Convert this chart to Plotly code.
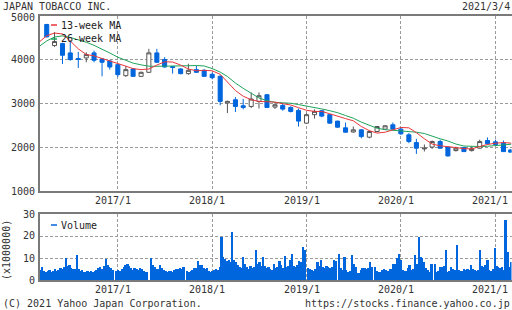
import pandas as pd
import plotly.graph_objects as go

# ---------------- data ----------------
months = pd.date_range("2016-04-01", "2021-03-01", freq="MS")
opens = [4795, 4315, 4360, 4148, 4020, 4033, 4148, 4010, 3964,
         3880, 3629, 3782, 3613, 3705, 4148, 3995, 3835, 3782, 3675, 3766, 3750,
         3660, 3613, 3005, 3080, 2943, 2927, 3042, 3195, 2913, 2950, 2905, 2837,
         2547, 2740, 2830, 2740, 2593, 2440, 2345, 2394, 2227, 2356, 2410, 2509,
         2410, 2280, 2104, 1960, 2001, 2127, 2001, 1921, 1990, 1921, 1976, 2150,
         2120, 2090, 1937]
highs = [4810, 4620, 4380, 4435, 4170, 4162, 4200, 4030, 3990,
         3900, 3850, 3800, 3720, 4240, 4240, 4050, 3845, 3800, 3900, 3850, 3780,
         3700, 3640, 3060, 3140, 3100, 3247, 3247, 3200, 3000, 3000, 2930, 2880,
         2770, 2860, 2840, 2750, 2600, 2560, 2470, 2410, 2380, 2480, 2500, 2560,
         2450, 2320, 2190, 2060, 2150, 2170, 2010, 2010, 2000, 2020, 2170, 2220,
         2170, 2150, 1950]
lows = [4500, 4285, 3896, 3970, 3805, 3934, 3934, 3613, 3766,
        3600, 3600, 3600, 3600, 3690, 3920, 3810, 3675, 3660, 3650, 3690, 3600,
        3545, 2955, 2776, 2800, 2860, 2890, 2880, 2900, 2870, 2830, 2790, 2470,
        2530, 2650, 2680, 2530, 2440, 2330, 2330, 2200, 2200, 2340, 2400, 2400,
        2280, 2090, 1846, 1900, 1960, 1960, 1785, 1900, 1890, 1900, 1960, 2060,
        2050, 1890, 1880]
closes = [4514, 4406, 4093, 3995, 4000, 4109, 3980, 3934, 3827,
          3652, 3766, 3613, 3705, 4148, 3934, 3827, 3815, 3675, 3750, 3705, 3613,
          3583, 3042, 3042, 2927, 2905, 3096, 3172, 2905, 2966, 2867, 2814, 2593,
          2740, 2814, 2707, 2547, 2455, 2340, 2395, 2241, 2356, 2470, 2486, 2410,
          2303, 2127, 1976, 1975, 2127, 1976, 1800, 1976, 1898, 1960, 2127, 2075,
          2059, 1898, 1885]

ma_dates = (["2016-03-04"] + [d.strftime("%Y-%m-%d") for d in
            pd.date_range("2016-04-01", "2021-02-01", freq="MS")] + ["2021-03-04"])
ma13 = [4400, 4540, 4600, 4580, 4420, 4240, 4110, 4080, 4020, 3970,
        3905, 3845, 3790, 3766, 3780, 3870, 3945, 3940, 3870, 3780, 3740, 3750,
        3740, 3660, 3480, 3290, 3160, 3080, 3042, 3042, 3025, 2990, 2960, 2900,
        2840, 2813, 2813, 2760, 2700, 2650, 2600, 2470, 2375, 2320, 2340, 2400,
        2447, 2440, 2330, 2190, 2070, 2029, 2015, 1990, 1965, 1960, 2013, 2060,
        2090, 2105, 2090]
ma26 = [4300, 4420, 4510, 4535, 4500, 4450, 4390, 4320, 4240, 4145,
        4050, 3970, 3915, 3875, 3845, 3842, 3842, 3842, 3845, 3855, 3860, 3850,
        3790, 3710, 3610, 3460, 3340, 3220, 3120, 3060, 3020, 3010, 3000, 2970,
        2940, 2905, 2870, 2830, 2785, 2720, 2660, 2570, 2490, 2430, 2398, 2385,
        2378, 2362, 2340, 2310, 2245, 2190, 2140, 2070, 2025, 2013, 2013, 2020,
        2030, 2050, 2068]

vol_dates = pd.date_range("2016-03-07", periods=261, freq="7D")
volume = [4.5, 5.8, 4.2, 3.8, 4.0, 4.5, 3.7, 4.2, 4.8, 3.9,
          4.6, 5.3, 5.0, 6.0, 9.8, 6.2, 7.0, 5.5, 5.2, 4.8,
          11.5, 5.0, 4.2, 4.5, 3.8, 3.6, 4.0, 3.5, 4.2, 3.8,
          4.0, 4.5, 5.5, 6.0, 5.0, 6.5, 9.6, 7.0, 6.0, 5.5,
          4.5, 0, 4.0, 4.5, 4.0, 5.0, 6.0, 6.8, 7.5, 6.5,
          5.5, 4.5, 5.5, 5.0, 4.5, 5.3, 4.8, 4.0, 3.8, 3.5,
          0, 10.0, 7.0, 6.0, 5.0, 5.0, 6.8, 5.5, 4.5, 4.0,
          3.8, 4.2, 4.0, 3.8, 4.5, 5.0, 4.8, 5.5, 5.0, 6.0,
          0, 4.0, 3.8, 4.2, 4.5, 5.3, 5.5, 8.6, 7.0, 6.8,
          5.5, 5.0, 5.3, 4.0, 3.8, 4.2, 4.5, 5.0, 4.5, 6.0,
          19.4, 10.6, 9.5, 8.5, 9.0, 8.0, 21.8, 9.0, 8.0, 7.0,
          6.0, 5.5, 10.6, 7.5, 6.0, 5.0, 6.5, 5.5, 6.0, 13.6,
          7.5, 8.0, 6.5, 10.6, 6.5, 5.5, 6.0, 5.0, 4.5, 7.5,
          5.3, 6.0, 8.8, 6.8, 5.5, 11.0, 6.0, 6.5, 9.0, 12.0,
          6.5, 6.0, 6.8, 8.8, 8.0, 14.8, 13.5, 0, 5.5, 5.0,
          4.5, 4.3, 4.8, 8.3, 6.5, 9.0, 6.0, 5.5, 6.5, 6.0,
          5.5, 6.0, 9.0, 8.5, 0, 11.8, 5.5, 4.5, 10.6, 4.5,
          3.8, 4.0, 11.4, 7.5, 6.0, 3.0, 3.2, 4.5, 5.3, 5.5,
          5.0, 5.5, 8.0, 6.0, 0, 6.0, 4.0, 3.5, 3.8, 4.5,
          4.8, 4.5, 4.3, 4.8, 5.0, 7.5, 7.5, 10.0, 11.8, 9.0,
          4.5, 4.0, 4.2, 5.3, 6.8, 4.5, 5.0, 11.4, 7.5, 19.4,
          10.6, 10.0, 8.0, 5.3, 4.5, 3.8, 7.5, 0, 7.5, 3.8,
          4.0, 6.0, 6.0, 6.5, 13.6, 3.8, 4.0, 6.0, 5.0, 4.5,
          15.9, 4.5, 4.0, 4.2, 5.0, 4.5, 5.0, 4.5, 6.8, 5.0,
          4.5, 4.2, 4.5, 13.6, 6.5, 6.0, 7.0, 9.0, 4.5, 4.2,
          5.0, 14.4, 6.5, 6.0, 5.5, 6.0, 4.5, 27.3, 12.9, 6.0,
          8.3]

year_ticks = ["2017-01-01", "2018-01-01", "2019-01-01", "2020-01-01", "2021-01-01"]
year_labels = ["2017/1", "2018/1", "2019/1", "2020/1", "2021/1"]
price_ticks = [1000, 2000, 3000, 4000, 5000]
vol_ticks = [0, 10, 20, 30]

# ---------------- style ----------------
W, H = 512, 310
BLUE = "#0066dd"
RED = "#e8353a"
GREEN = "#1ea35c"
TXT = "#333333"
FONT = "DejaVu Sans Mono"
GRID = "#9a9a9a"
FRAME = "#7a7a7a"
X0, X1 = 39.5, 511.5
P_TOP, P_BOT = 15.5, 191
V_TOP, V_BOT = 214, 280
START, END = pd.Timestamp("2016-03-04"), pd.Timestamp("2021-03-04")


def px(x):
    return x / W


def py(y):
    return 1 - y / H


def date_px(d):
    d = pd.Timestamp(d)
    return X0 + (d - START) / (END - START) * (X1 - X0)


fig = go.Figure()

fig.add_trace(go.Candlestick(
    x=months, open=opens, high=highs, low=lows, close=closes,
    increasing=dict(line=dict(color="#555555", width=1), fillcolor="#ffffff"),
    decreasing=dict(line=dict(color=BLUE, width=1), fillcolor=BLUE),
    xaxis="x", yaxis="y", showlegend=False, hoverinfo="skip"))

fig.add_trace(go.Scatter(x=ma_dates, y=ma26, mode="lines",
                         line=dict(color=GREEN, width=1), xaxis="x", yaxis="y",
                         showlegend=False, hoverinfo="skip"))
fig.add_trace(go.Scatter(x=ma_dates, y=ma13, mode="lines",
                         line=dict(color=RED, width=1), xaxis="x", yaxis="y",
                         showlegend=False, hoverinfo="skip"))

fig.add_trace(go.Bar(x=vol_dates, y=volume, marker=dict(color=BLUE, line=dict(width=0)),
                     xaxis="x2", yaxis="y2", showlegend=False, hoverinfo="skip"))

xdom = [px(X0), px(X1)]
common_x = dict(
    type="date", range=[START, END], domain=xdom,
    tickmode="array", tickvals=year_ticks, showticklabels=False,
    showgrid=True, gridcolor=GRID, griddash="3px,2px", gridwidth=1,
    showline=True, mirror=True, linecolor=FRAME, linewidth=1.5,
    ticks="", zeroline=False, fixedrange=True,
)
common_y = dict(
    showgrid=True, gridcolor=GRID, griddash="3px,2px", gridwidth=1,
    showline=True, mirror=True, linecolor=FRAME, linewidth=1.5,
    ticks="", showticklabels=False,
    zeroline=False, fixedrange=True, tickmode="array",
)

fig.update_layout(
    width=W, height=H, margin=dict(l=0, r=0, t=0, b=0),
    paper_bgcolor="white", plot_bgcolor="white",
    boxgap=0.2, bargap=0,
    xaxis=dict(**common_x, anchor="y", rangeslider=dict(visible=False)),
    yaxis=dict(**common_y, domain=[py(P_BOT), py(P_TOP)], range=[1000, 5000],
               tickvals=price_ticks, anchor="x"),
    xaxis2=dict(**common_x, anchor="y2", matches="x"),
    yaxis2=dict(**common_y, domain=[py(V_BOT), py(V_TOP)], range=[0, 30],
                tickvals=vol_ticks, anchor="x2"),
    showlegend=False,
)


def note(text, x, y, xanchor="left", yanchor="middle", angle=0, color=TXT):
    fig.add_annotation(text=text, x=px(x), y=py(y), xref="paper", yref="paper",
                       xanchor=xanchor, yanchor=yanchor, showarrow=False,
                       textangle=angle, borderpad=0,
                       font=dict(family=FONT, size=10, color=color))


note("JAPAN TOBACCO INC.", 2, 6)
note("2021/3/4", 511, 6, xanchor="right")
note("(C) 2021 Yahoo Japan Corporation.", 2, 303)
note("https://stocks.finance.yahoo.co.jp", 511, 303, xanchor="right")
note("(x1000000)", 7, 250, xanchor="center", angle=-90)

# y tick labels
for v in price_ticks:
    yy = P_BOT - (v - 1000) / 4000 * (P_BOT - P_TOP)
    if v == 5000:
        yy += 2  # top label sits a little below the frame in the reference
    note(str(v), 36, yy, xanchor="right")
for v in vol_ticks:
    yy = V_BOT - v / 30 * (V_BOT - V_TOP)
    note(str(v), 36, yy, xanchor="right")

# x tick labels (drawn slightly left of their gridline, as in the reference)
for tv, tl in zip(year_ticks, year_labels):
    xx = date_px(tv) - 5
    note(tl, xx, 200, xanchor="center")
    note(tl, xx, 289.5, xanchor="center")

# legends
for label, color, yy in [("13-week MA", RED, 25), ("26-week MA", GREEN, 39), ("Volume", BLUE, 225)]:
    fig.add_shape(type="line", xref="paper", yref="paper",
                  x0=px(51), x1=px(57), y0=py(yy), y1=py(yy),
                  line=dict(color=color, width=1.5))
    note(label, 60, yy, color="#222222")

fig.write_html("out.html")
